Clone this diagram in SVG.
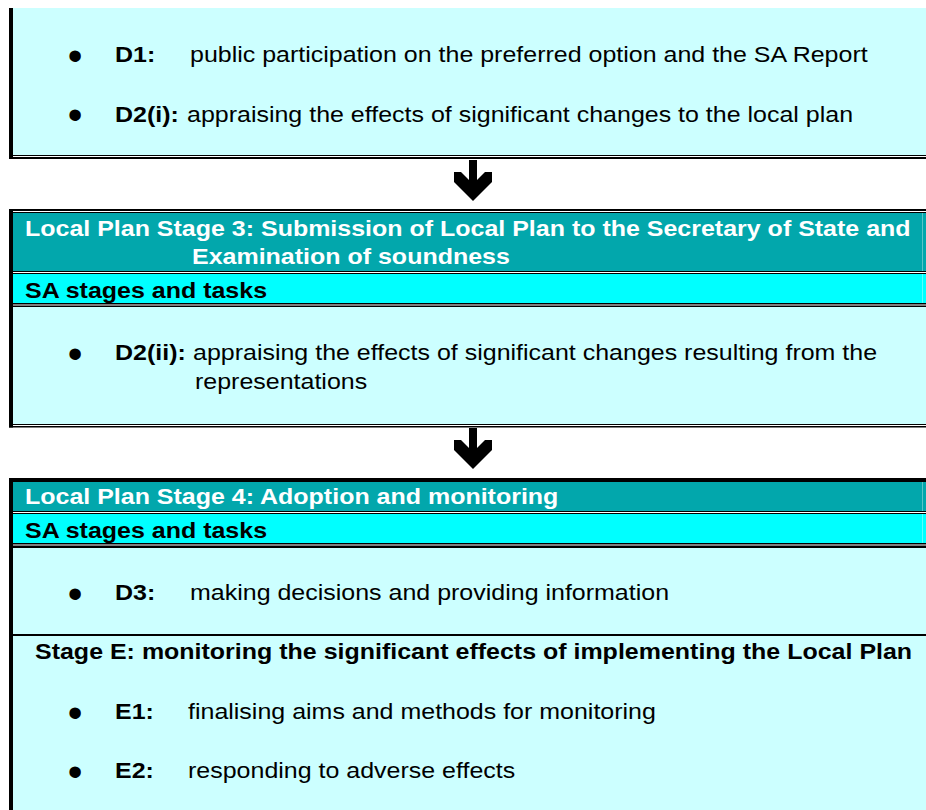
<svg xmlns="http://www.w3.org/2000/svg" width="926" height="810" viewBox="0 0 926 810">
  <style>
    .t { font-family: "Liberation Sans", Arial, sans-serif; font-size: 22px; fill: #000; }
    .b { font-weight: bold; }
    .w { fill: #fff; }
    .bul { font-family: "Liberation Sans", Arial, sans-serif; font-size: 42px; fill: #000; text-anchor: middle; }
    .ink { fill: #000; }
    .body { fill: #ccffff; }
    .head { fill: #02a7ac; }
    .band { fill: #00ffff; }
    .rule { fill: #fff; opacity: 0.35; }
    .arrow { fill: #000; }
  </style>
  <defs>
    <path id="down-arrow" d="M469 160 H477 V180 L485 172 H492 V182 L473 201 L454 182 V172 H461 L469 180 Z"/>
  </defs>

  <rect width="926" height="810" fill="#fff"/>

  <!-- Stage D tasks (continued) -->
  <g id="box-stage-d">
    <rect class="body" x="13" y="8" width="913" height="147"/>
    <rect class="ink" x="9" y="8" width="4" height="151"/>
    <rect class="ink" x="9" y="155" width="917" height="1"/>
    <rect class="ink" x="9" y="157" width="917" height="2"/>
    <text class="bul" x="75" y="69.5">•</text>
    <text class="t b" transform="translate(115 62) scale(1.136 1)">D1:</text>
    <text class="t" transform="translate(190 62) scale(1.136 1)">public participation on the preferred option and the SA Report</text>
    <text class="bul" x="75" y="128.7">•</text>
    <text class="t b" transform="translate(115 121.5) scale(1.136 1)">D2(i):</text>
    <text class="t" transform="translate(187 121.5) scale(1.136 1)">appraising the effects of significant changes to the local plan</text>
  </g>

  <!-- Local Plan Stage 3 -->
  <g id="box-stage-3">
    <rect class="head" x="13" y="213" width="913" height="58"/>
    <rect class="band" x="13" y="274" width="913" height="29"/>
    <rect class="body" x="13" y="307" width="913" height="117"/>
    <rect class="rule" x="922" y="213" width="1" height="58"/>
    <rect class="rule" x="922" y="274" width="1" height="29"/>
    <rect class="ink" x="9" y="209" width="917" height="2"/>
    <rect class="ink" x="9" y="212" width="917" height="1"/>
    <rect class="ink" x="9" y="271" width="917" height="1"/>
    <rect class="ink" x="9" y="273" width="917" height="1"/>
    <rect class="ink" x="9" y="303" width="917" height="1.5"/>
    <rect class="ink" x="9" y="305.5" width="917" height="1.5"/>
    <rect class="ink" x="9" y="424" width="917" height="1"/>
    <rect class="ink" x="9" y="426" width="917" height="1.5"/>
    <rect class="ink" x="9" y="209" width="4" height="218.5"/>
    <text class="t b w" transform="translate(25 236) scale(1.136 1)">Local Plan Stage 3: Submission of Local Plan to the Secretary of State and</text>
    <text class="t b w" transform="translate(192 264) scale(1.136 1)">Examination of soundness</text>
    <text class="t b" transform="translate(25 298) scale(1.136 1)">SA stages and tasks</text>
    <text class="bul" x="75" y="367.5">•</text>
    <text class="t b" transform="translate(115 360) scale(1.136 1)">D2(ii):</text>
    <text class="t" transform="translate(193 360) scale(1.136 1)">appraising the effects of significant changes resulting from the</text>
    <text class="t" transform="translate(195 389) scale(1.136 1)">representations</text>
  </g>

  <!-- Local Plan Stage 4 -->
  <g id="box-stage-4">
    <rect class="head" x="13" y="482" width="913" height="29"/>
    <rect class="band" x="13" y="514" width="913" height="29"/>
    <rect class="body" x="13" y="548" width="913" height="262"/>
    <rect class="rule" x="922" y="482" width="1" height="29"/>
    <rect class="rule" x="922" y="514" width="1" height="29"/>
    <rect class="ink" x="9" y="478" width="917" height="4"/>
    <rect class="ink" x="9" y="511" width="917" height="1"/>
    <rect class="ink" x="9" y="513" width="917" height="1"/>
    <rect class="ink" x="9" y="543" width="917" height="1.5"/>
    <rect class="ink" x="9" y="545.5" width="917" height="2.5"/>
    <rect class="ink" x="13" y="634" width="913" height="2"/>
    <rect class="ink" x="9" y="478" width="4" height="332"/>
    <text class="t b w" transform="translate(25 504) scale(1.136 1)">Local Plan Stage 4: Adoption and monitoring</text>
    <text class="t b" transform="translate(25 538) scale(1.136 1)">SA stages and tasks</text>
    <text class="bul" x="75" y="607.5">•</text>
    <text class="t b" transform="translate(115 600) scale(1.136 1)">D3:</text>
    <text class="t" transform="translate(190 600) scale(1.136 1)">making decisions and providing information</text>
    <text class="t b" transform="translate(35 659) scale(1.136 1)">Stage E: monitoring the significant effects of implementing the Local Plan</text>
    <text class="bul" x="75" y="726.5">•</text>
    <text class="t b" transform="translate(115 719) scale(1.136 1)">E1:</text>
    <text class="t" transform="translate(188 719) scale(1.136 1)">finalising aims and methods for monitoring</text>
    <text class="bul" x="75" y="785.5">•</text>
    <text class="t b" transform="translate(115 778) scale(1.136 1)">E2:</text>
    <text class="t" transform="translate(188 778) scale(1.136 1)">responding to adverse effects</text>
  </g>

  <!-- Flow arrows between stages -->
  <g id="connectors">
    <use href="#down-arrow" class="arrow"/>
    <use href="#down-arrow" class="arrow" transform="translate(0 268)"/>
  </g>
</svg>
